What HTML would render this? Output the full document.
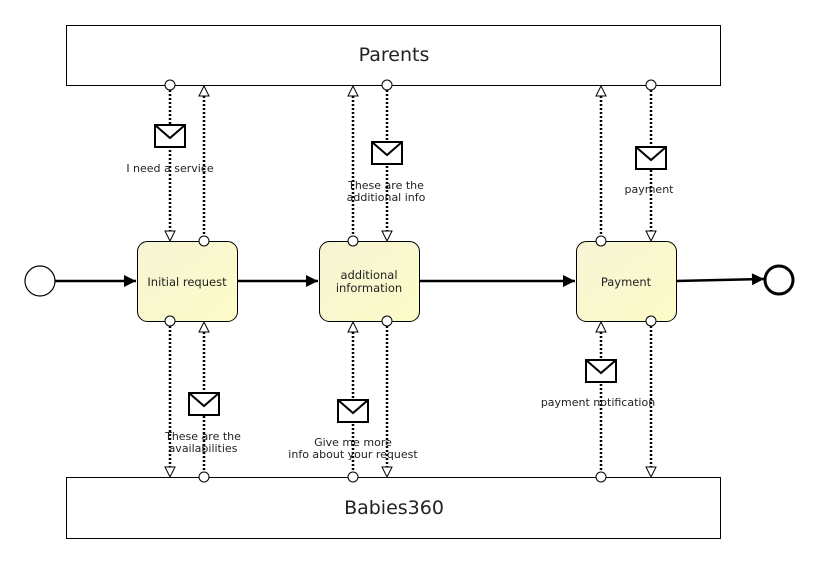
<!DOCTYPE html>
<html><head><meta charset="utf-8"><style>
html,body{margin:0;padding:0;background:#fff;}
svg{display:block;}
text{font-family:"DejaVu Sans","Liberation Sans",sans-serif;fill:#222;}
</style></head><body>
<svg width="818" height="563" viewBox="0 0 818 563" xmlns="http://www.w3.org/2000/svg">
<defs>
<linearGradient id="g" x1="0" y1="0" x2="1" y2="1">
<stop offset="0" stop-color="#f6f4d4"/><stop offset="1" stop-color="#fdfcc8"/>
</linearGradient>
<marker id="arrB" viewBox="0 0 10 10" refX="10" refY="5" markerWidth="17" markerHeight="12" markerUnits="userSpaceOnUse" orient="auto">
<path d="M0,0 L10,5 L0,10 Z" fill="#000"/></marker>
</defs>
<rect x="66.5" y="25.5" width="654" height="60" fill="#fff" stroke="#000"/>
<text x="394" y="61" font-size="19" text-anchor="middle">Parents</text>
<rect x="66.5" y="477.5" width="654" height="61" fill="#fff" stroke="#000"/>
<text x="394" y="514" font-size="19" text-anchor="middle">Babies360</text>

<g stroke="#000" stroke-width="2.5" fill="none">
<line x1="55" y1="281" x2="136" y2="281" marker-end="url(#arrB)"/>
<line x1="237" y1="281" x2="318" y2="281" marker-end="url(#arrB)"/>
<line x1="419" y1="281" x2="575" y2="281" marker-end="url(#arrB)"/>
<line x1="676" y1="281" x2="764" y2="279" marker-end="url(#arrB)"/>
</g>
<circle cx="40" cy="281" r="15" fill="#fff" stroke="#000" stroke-width="1.2"/>
<circle cx="779" cy="280" r="14" fill="#fff" stroke="#000" stroke-width="3"/>

<g stroke="#000" stroke-width="2.5" stroke-dasharray="2,2" fill="none">
<line x1="170" y1="90" x2="170" y2="231"/>
<line x1="204" y1="96" x2="204" y2="236"/>
<line x1="353" y1="96" x2="353" y2="236"/>
<line x1="387" y1="90" x2="387" y2="231"/>
<line x1="601" y1="96" x2="601" y2="236"/>
<line x1="651" y1="90" x2="651" y2="231"/>
<line x1="170" y1="326" x2="170" y2="467"/>
<line x1="204" y1="332" x2="204" y2="472"/>
<line x1="353" y1="332" x2="353" y2="472"/>
<line x1="387" y1="326" x2="387" y2="467"/>
<line x1="601" y1="332" x2="601" y2="472"/>
<line x1="651" y1="326" x2="651" y2="467"/>
</g>

<g stroke="#000" stroke-width="1" fill="url(#g)">
<rect x="137.5" y="241.5" width="100" height="80" rx="10"/>
<rect x="319.5" y="241.5" width="100" height="80" rx="10"/>
<rect x="576.5" y="241.5" width="100" height="80" rx="10"/>
</g>
<text x="187" y="286" font-size="11.5" text-anchor="middle">Initial request</text>
<text x="369" y="279" font-size="11.5" text-anchor="middle">additional</text>
<text x="369" y="292" font-size="11.5" text-anchor="middle">information</text>
<text x="626" y="286" font-size="11.5" text-anchor="middle">Payment</text>

<g fill="#fff" stroke="#000" stroke-width="1">
<circle cx="170" cy="85" r="5"/><circle cx="387" cy="85" r="5"/><circle cx="651" cy="85" r="5"/>
<circle cx="204" cy="241" r="5"/><circle cx="353" cy="241" r="5"/><circle cx="601" cy="241" r="5"/>
<circle cx="170" cy="321" r="5"/><circle cx="387" cy="321" r="5"/><circle cx="651" cy="321" r="5"/>
<circle cx="204" cy="477" r="5"/><circle cx="353" cy="477" r="5"/><circle cx="601" cy="477" r="5"/>
</g>
<g fill="#fff" stroke="#000" stroke-width="1">
<path d="M165,231 L175,231 L170,241 Z"/><path d="M382,231 L392,231 L387,241 Z"/><path d="M646,231 L656,231 L651,241 Z"/>
<path d="M165,467 L175,467 L170,477 Z"/><path d="M382,467 L392,467 L387,477 Z"/><path d="M646,467 L656,467 L651,477 Z"/>
<path d="M199,96 L209,96 L204,86 Z"/><path d="M348,96 L358,96 L353,86 Z"/><path d="M596,96 L606,96 L601,86 Z"/>
<path d="M199,332 L209,332 L204,322 Z"/><path d="M348,332 L358,332 L353,322 Z"/><path d="M596,332 L606,332 L601,322 Z"/>
</g>

<g fill="#fff" stroke="#000" stroke-width="2">
<g transform="translate(155,125)"><rect x="0" y="0" width="30" height="22"/><path d="M0,0 L15,13 L30,0" fill="none"/></g>
<g transform="translate(372,142)"><rect x="0" y="0" width="30" height="22"/><path d="M0,0 L15,13 L30,0" fill="none"/></g>
<g transform="translate(636,147)"><rect x="0" y="0" width="30" height="22"/><path d="M0,0 L15,13 L30,0" fill="none"/></g>
<g transform="translate(189,393)"><rect x="0" y="0" width="30" height="22"/><path d="M0,0 L15,13 L30,0" fill="none"/></g>
<g transform="translate(338,400)"><rect x="0" y="0" width="30" height="22"/><path d="M0,0 L15,13 L30,0" fill="none"/></g>
<g transform="translate(586,360)"><rect x="0" y="0" width="30" height="22"/><path d="M0,0 L15,13 L30,0" fill="none"/></g>
</g>

<g font-size="11" text-anchor="middle">
<text x="170" y="172">I need a service</text>
<text x="386" y="189">These are the</text>
<text x="386" y="201">additional info</text>
<text x="649" y="193">payment</text>
<text x="203" y="440">These are the</text>
<text x="203" y="452">availabilities</text>
<text x="353" y="446">Give me more</text>
<text x="353" y="458">info about your request</text>
<text x="598" y="406">payment notification</text>
</g>
</svg>
</body></html>
